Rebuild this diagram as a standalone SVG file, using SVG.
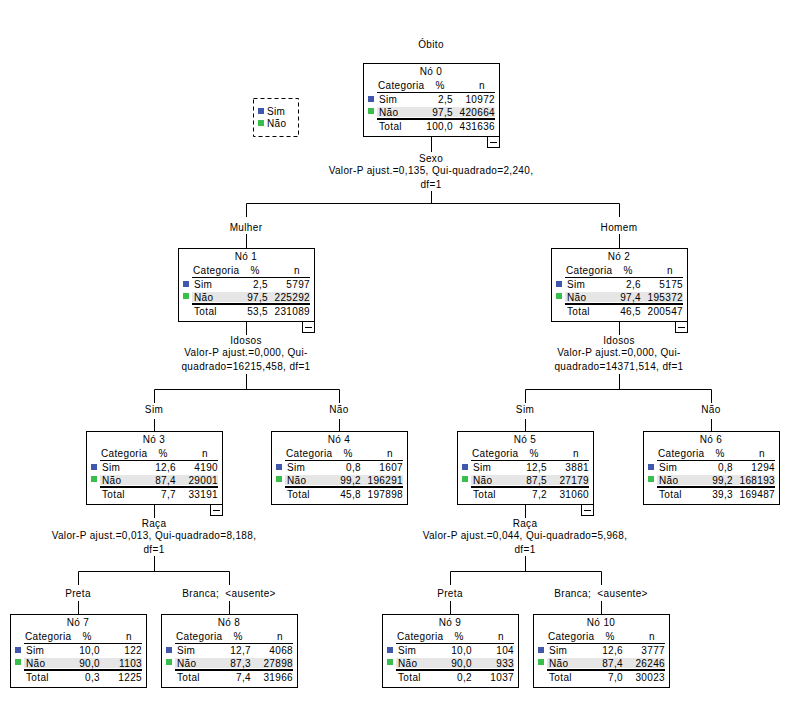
<svg xmlns="http://www.w3.org/2000/svg" width="802" height="706" viewBox="0 0 802 706">
<style>
text{font-family:"Liberation Sans",Arial,sans-serif;font-size:10px;letter-spacing:0.35px;fill:#000}
.m{text-anchor:middle}
.e{text-anchor:end}
.box{fill:#fff;stroke:#000;stroke-width:1}
.ln{stroke:#000;stroke-width:1;fill:none}
.ln2{stroke:#000;stroke-width:2;fill:none}
.band{fill:#e6e6e6}
.sim{fill:#3f58ad}
.nao{fill:#38bf4b}
</style>
<rect x="0" y="0" width="802" height="706" fill="#fff"/>
<text class="m" x="431" y="48">Óbito</text>
<g id="legend">
<rect x="253.5" y="98.5" width="45" height="38" fill="none" stroke="#000" stroke-dasharray="4,3"/>
<rect class="sim" x="258" y="108" width="6" height="6"/>
<text x="267" y="115">Sim</text>
<rect class="nao" x="258" y="120" width="6" height="6"/>
<text x="267" y="127">Não</text>
</g>
<g id="connectors">
<path class="ln" d="M431.5 137V152M431.5 191V203.5M246.5 203.5H619.5M246.5 203.5V217M619.5 203.5V217M246.5 234V248M619.5 234V248"/>
<text class="m" x="431" y="162">Sexo</text>
<text class="m" x="431" y="174">Valor-P ajust.=0,135, Qui-quadrado=2,240,</text>
<text class="m" x="431" y="188">df=1</text>
<text class="m" x="246" y="231">Mulher</text>
<text class="m" x="619" y="231">Homem</text>
<path class="ln" d="M246.5 321V335M246.5 374V389.5M154.5 389.5H339.5M154.5 389.5V403M339.5 389.5V403M154.5 419V431M339.5 419V431"/>
<text class="m" x="246" y="344">Idosos</text>
<text class="m" x="246" y="356">Valor-P ajust.=0,000, Qui-</text>
<text class="m" x="246" y="370">quadrado=16215,458, df=1</text>
<text class="m" x="154" y="413">Sim</text>
<text class="m" x="339" y="413">Não</text>
<path class="ln" d="M619.5 321V335M619.5 374V389.5M525.5 389.5H711.5M525.5 389.5V403M711.5 389.5V403M525.5 419V431M711.5 419V431"/>
<text class="m" x="619" y="344">Idosos</text>
<text class="m" x="619" y="356">Valor-P ajust.=0,000, Qui-</text>
<text class="m" x="619" y="370">quadrado=14371,514, df=1</text>
<text class="m" x="525" y="413">Sim</text>
<text class="m" x="711" y="413">Não</text>
<path class="ln" d="M154.5 504V518M154.5 556V571.5M78.5 571.5H229.5M78.5 571.5V585M229.5 571.5V585M78.5 601V614M229.5 601V614"/>
<text class="m" x="154" y="527">Raça</text>
<text class="m" x="154" y="539">Valor-P ajust.=0,013, Qui-quadrado=8,188,</text>
<text class="m" x="154" y="553">df=1</text>
<text class="m" x="78" y="597">Preta</text>
<text class="m" x="229" y="597">Branca;&#160; &lt;ausente&gt;</text>
<path class="ln" d="M525.5 504V518M525.5 556V571.5M450.5 571.5H601.5M450.5 571.5V585M601.5 571.5V585M450.5 601V614M601.5 601V614"/>
<text class="m" x="525" y="527">Raça</text>
<text class="m" x="525" y="539">Valor-P ajust.=0,044, Qui-quadrado=5,968,</text>
<text class="m" x="525" y="553">df=1</text>
<text class="m" x="450" y="597">Preta</text>
<text class="m" x="601" y="597">Branca;&#160; &lt;ausente&gt;</text>
</g>
<defs>
<g id="frame">
<rect class="box" x="0.5" y="0.5" width="136" height="73"/>
<text x="15" y="26">Categoria</text>
<text class="m" x="77" y="26">%</text>
<text class="m" x="119" y="26">n</text>
<line class="ln" x1="14" y1="29.5" x2="132" y2="29.5"/>
<rect class="sim" x="5" y="33" width="6" height="6"/>
<text x="16" y="40">Sim</text>
<rect class="band" x="14" y="44" width="118" height="10"/>
<rect class="nao" x="5" y="45" width="6" height="6"/>
<text x="16" y="53">Não</text>
<line class="ln2" x1="14" y1="56" x2="132" y2="56"/>
<text x="16" y="67">Total</text>
</g>
<g id="minus">
<rect class="box" x="124.5" y="73.5" width="12" height="11"/>
<line class="ln" x1="127" y1="79.5" x2="134" y2="79.5"/>
</g>
</defs>
<g id="node0" transform="translate(363,63)">
<use href="#frame"/><use href="#minus"/>
<text class="m" x="68" y="12">Nó 0</text>
<text class="e" x="90" y="40">2,5</text><text class="e" x="132" y="40">10972</text>
<text class="e" x="90" y="53">97,5</text><text class="e" x="132" y="53">420664</text>
<text class="e" x="90" y="67">100,0</text><text class="e" x="132" y="67">431636</text>
</g>
<g id="node1" transform="translate(178,248)">
<use href="#frame"/><use href="#minus"/>
<text class="m" x="68" y="12">Nó 1</text>
<text class="e" x="90" y="40">2,5</text><text class="e" x="132" y="40">5797</text>
<text class="e" x="90" y="53">97,5</text><text class="e" x="132" y="53">225292</text>
<text class="e" x="90" y="67">53,5</text><text class="e" x="132" y="67">231089</text>
</g>
<g id="node2" transform="translate(551,248)">
<use href="#frame"/><use href="#minus"/>
<text class="m" x="68" y="12">Nó 2</text>
<text class="e" x="90" y="40">2,6</text><text class="e" x="132" y="40">5175</text>
<text class="e" x="90" y="53">97,4</text><text class="e" x="132" y="53">195372</text>
<text class="e" x="90" y="67">46,5</text><text class="e" x="132" y="67">200547</text>
</g>
<g id="node3" transform="translate(86,431)">
<use href="#frame"/><use href="#minus"/>
<text class="m" x="68" y="12">Nó 3</text>
<text class="e" x="90" y="40">12,6</text><text class="e" x="132" y="40">4190</text>
<text class="e" x="90" y="53">87,4</text><text class="e" x="132" y="53">29001</text>
<text class="e" x="90" y="67">7,7</text><text class="e" x="132" y="67">33191</text>
</g>
<g id="node4" transform="translate(271,431)">
<use href="#frame"/>
<text class="m" x="68" y="12">Nó 4</text>
<text class="e" x="90" y="40">0,8</text><text class="e" x="132" y="40">1607</text>
<text class="e" x="90" y="53">99,2</text><text class="e" x="132" y="53">196291</text>
<text class="e" x="90" y="67">45,8</text><text class="e" x="132" y="67">197898</text>
</g>
<g id="node5" transform="translate(457,431)">
<use href="#frame"/><use href="#minus"/>
<text class="m" x="68" y="12">Nó 5</text>
<text class="e" x="90" y="40">12,5</text><text class="e" x="132" y="40">3881</text>
<text class="e" x="90" y="53">87,5</text><text class="e" x="132" y="53">27179</text>
<text class="e" x="90" y="67">7,2</text><text class="e" x="132" y="67">31060</text>
</g>
<g id="node6" transform="translate(643,431)">
<use href="#frame"/>
<text class="m" x="68" y="12">Nó 6</text>
<text class="e" x="90" y="40">0,8</text><text class="e" x="132" y="40">1294</text>
<text class="e" x="90" y="53">99,2</text><text class="e" x="132" y="53">168193</text>
<text class="e" x="90" y="67">39,3</text><text class="e" x="132" y="67">169487</text>
</g>
<g id="node7" transform="translate(10,614)">
<use href="#frame"/>
<text class="m" x="68" y="12">Nó 7</text>
<text class="e" x="90" y="40">10,0</text><text class="e" x="132" y="40">122</text>
<text class="e" x="90" y="53">90,0</text><text class="e" x="132" y="53">1103</text>
<text class="e" x="90" y="67">0,3</text><text class="e" x="132" y="67">1225</text>
</g>
<g id="node8" transform="translate(161,614)">
<use href="#frame"/>
<text class="m" x="68" y="12">Nó 8</text>
<text class="e" x="90" y="40">12,7</text><text class="e" x="132" y="40">4068</text>
<text class="e" x="90" y="53">87,3</text><text class="e" x="132" y="53">27898</text>
<text class="e" x="90" y="67">7,4</text><text class="e" x="132" y="67">31966</text>
</g>
<g id="node9" transform="translate(382,614)">
<use href="#frame"/>
<text class="m" x="68" y="12">Nó 9</text>
<text class="e" x="90" y="40">10,0</text><text class="e" x="132" y="40">104</text>
<text class="e" x="90" y="53">90,0</text><text class="e" x="132" y="53">933</text>
<text class="e" x="90" y="67">0,2</text><text class="e" x="132" y="67">1037</text>
</g>
<g id="node10" transform="translate(533,614)">
<use href="#frame"/>
<text class="m" x="68" y="12">Nó 10</text>
<text class="e" x="90" y="40">12,6</text><text class="e" x="132" y="40">3777</text>
<text class="e" x="90" y="53">87,4</text><text class="e" x="132" y="53">26246</text>
<text class="e" x="90" y="67">7,0</text><text class="e" x="132" y="67">30023</text>
</g>
</svg>
